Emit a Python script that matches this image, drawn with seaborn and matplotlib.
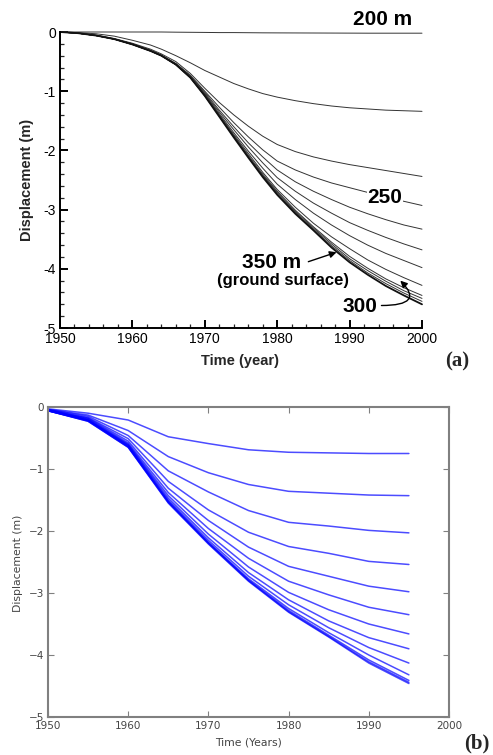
import numpy as np
import pandas as pd
import matplotlib
matplotlib.use("Agg")
import matplotlib.pyplot as plt
from matplotlib.ticker import MultipleLocator
import seaborn as sns

sns.set_style("ticks")
plt.rcParams["font.family"] = ["Liberation Sans", "DejaVu Sans"]

# ---------------- data: panel (a) ----------------
YEARS_A = [1950, 1952.5, 1955, 1957.5, 1960, 1962.5, 1964, 1966, 1968, 1970, 1972,
           1974, 1976, 1978, 1980, 1982.5, 1985, 1987.5, 1990, 1992.5, 1995,
           1997.5, 2000]
A_200 = [0, 0, 0, 0, 0, 0, 0, -0.003, -0.005, -0.007, -0.01, -0.01, -0.012,
         -0.014, -0.015, -0.016, -0.017, -0.018, -0.019, -0.02, -0.02, -0.02, -0.02]
A_L1 = [0, -0.01, -0.03, -0.07, -0.14, -0.22, -0.29, -0.40, -0.52, -0.65, -0.76,
        -0.87, -0.96, -1.04, -1.10, -1.16, -1.21, -1.25, -1.28, -1.30, -1.32,
        -1.33, -1.34]
A_L2 = [0, -0.02, -0.05, -0.11, -0.19, -0.29, -0.37, -0.50, -0.70, -0.95, -1.19,
        -1.40, -1.59, -1.76, -1.90, -2.02, -2.11, -2.18, -2.24, -2.29, -2.34,
        -2.39, -2.44]
A_L3 = [0, -0.02, -0.06, -0.12, -0.20, -0.31, -0.39, -0.53, -0.73, -1.00, -1.27,
        -1.53, -1.77, -1.99, -2.18, -2.33, -2.45, -2.55, -2.63, -2.71, -2.79,
        -2.86, -2.93]
A_L4 = [0, -0.02, -0.06, -0.12, -0.20, -0.31, -0.39, -0.54, -0.74, -1.02, -1.32,
        -1.60, -1.87, -2.11, -2.33, -2.53, -2.69, -2.83, -2.96, -3.07, -3.17,
        -3.26, -3.33]
A_L5 = [0, -0.02, -0.06, -0.12, -0.20, -0.31, -0.40, -0.54, -0.75, -1.04, -1.35,
        -1.65, -1.94, -2.21, -2.46, -2.69, -2.89, -3.06, -3.22, -3.35, -3.47,
        -3.58, -3.68]
A_L6 = [0, -0.02, -0.06, -0.12, -0.21, -0.32, -0.40, -0.55, -0.76, -1.05, -1.38,
        -1.70, -2.01, -2.30, -2.57, -2.83, -3.06, -3.26, -3.44, -3.60, -3.74,
        -3.86, -3.98]
A_L7 = [0, -0.02, -0.06, -0.12, -0.21, -0.32, -0.40, -0.55, -0.76, -1.06, -1.40,
        -1.73, -2.05, -2.37, -2.66, -2.96, -3.23, -3.46, -3.66, -3.85, -4.01,
        -4.15, -4.28]
A_L8 = [0, -0.02, -0.06, -0.12, -0.21, -0.32, -0.40, -0.55, -0.77, -1.07, -1.41,
        -1.75, -2.08, -2.40, -2.69, -3.01, -3.29, -3.55, -3.79, -3.99, -4.17,
        -4.32, -4.45]
A_L9 = [0, -0.02, -0.06, -0.12, -0.21, -0.32, -0.40, -0.55, -0.77, -1.07, -1.42,
        -1.76, -2.10, -2.42, -2.71, -3.03, -3.31, -3.58, -3.83, -4.03, -4.21,
        -4.37, -4.50]
A_L10 = [0, -0.02, -0.06, -0.12, -0.21, -0.32, -0.40, -0.55, -0.77, -1.08, -1.42,
         -1.77, -2.11, -2.43, -2.73, -3.05, -3.33, -3.61, -3.86, -4.07, -4.25,
         -4.41, -4.55]
A_GROUND = [0, -0.02, -0.06, -0.12, -0.21, -0.32, -0.40, -0.55, -0.77, -1.08, -1.43,
            -1.78, -2.12, -2.45, -2.75, -3.07, -3.35, -3.64, -3.89, -4.10, -4.29,
            -4.45, -4.60]
SERIES_A = [A_200, A_L1, A_L2, A_L3, A_L4, A_L5, A_L6, A_L7, A_L8, A_L9, A_L10, A_GROUND]

# ---------------- data: panel (b) ----------------
YEARS_B = [1950, 1955, 1960, 1965, 1970, 1975, 1980, 1985, 1990, 1995]
B1 = [-0.03, -0.10, -0.21, -0.48, -0.59, -0.69, -0.73, -0.74, -0.75, -0.75]
B2 = [-0.04, -0.13, -0.38, -0.80, -1.06, -1.25, -1.36, -1.39, -1.42, -1.43]
B3 = [-0.04, -0.15, -0.46, -1.03, -1.37, -1.67, -1.86, -1.92, -1.99, -2.03]
B4 = [-0.05, -0.17, -0.51, -1.20, -1.66, -2.02, -2.25, -2.36, -2.49, -2.54]
B5 = [-0.05, -0.18, -0.55, -1.31, -1.83, -2.26, -2.57, -2.73, -2.89, -2.98]
B6 = [-0.05, -0.19, -0.58, -1.38, -1.96, -2.44, -2.81, -3.03, -3.23, -3.35]
B7 = [-0.05, -0.20, -0.60, -1.43, -2.05, -2.58, -2.99, -3.27, -3.50, -3.66]
B8 = [-0.05, -0.21, -0.61, -1.47, -2.11, -2.67, -3.11, -3.45, -3.72, -3.90]
B9 = [-0.06, -0.21, -0.62, -1.50, -2.15, -2.73, -3.19, -3.56, -3.88, -4.13]
B10 = [-0.06, -0.22, -0.63, -1.52, -2.18, -2.77, -3.25, -3.64, -4.00, -4.32]
B11 = [-0.06, -0.22, -0.64, -1.53, -2.19, -2.79, -3.28, -3.68, -4.08, -4.41]
B12 = [-0.06, -0.23, -0.65, -1.54, -2.20, -2.80, -3.30, -3.70, -4.11, -4.44]
B13 = [-0.06, -0.23, -0.65, -1.55, -2.21, -2.81, -3.31, -3.71, -4.13, -4.46]
SERIES_B = [B1, B2, B3, B4, B5, B6, B7, B8, B9, B10, B11, B12, B13]

X_TICKS = [1950, 1960, 1970, 1980, 1990, 2000]
Y_TICKS = [0, -1, -2, -3, -4, -5]


def long_df(years, series):
    rows = []
    for i, s in enumerate(series):
        for yr, v in zip(years, s):
            rows.append({"year": yr, "disp": v, "series": i})
    return pd.DataFrame(rows)


dfa = long_df(YEARS_A, SERIES_A)
dfb = long_df(YEARS_B, SERIES_B)

W, H = 493, 755
fig = plt.figure(figsize=(W / 100, H / 100), dpi=100)

# ---------------- panel (a) ----------------
axa = fig.add_axes([60 / W, 1 - 328 / H, 362 / W, 296 / H])
n_a = len(SERIES_A)
for i in range(n_a):
    sub = dfa[dfa["series"] == i]
    lw = 1.3 if i == n_a - 1 else 0.7
    col = "#111111" if i == n_a - 1 else "#333333"
    sns.lineplot(data=sub, x="year", y="disp", ax=axa, color=col, lw=lw,
                 estimator=None, sort=False, legend=False, clip_on=False)

axa.set_xlim(1950, 2000)
axa.set_ylim(-5, 0)
axa.spines["top"].set_visible(False)
axa.spines["right"].set_visible(False)
for s in ("left", "bottom"):
    axa.spines[s].set_linewidth(1.4)
    axa.spines[s].set_color("black")
axa.set_xticks(X_TICKS)
axa.set_yticks(Y_TICKS)
axa.set_yticklabels([str(t) for t in Y_TICKS])
axa.xaxis.set_minor_locator(MultipleLocator(2))
axa.yaxis.set_minor_locator(MultipleLocator(0.2))
axa.tick_params(which="major", direction="in", length=6, width=1.4,
                labelsize=10, pad=3, colors="black")
axa.tick_params(which="minor", direction="in", length=3, width=0.9)
axa.set_xlabel("Time (year)", fontsize=10.5, fontweight="bold")
axa.set_ylabel("Displacement (m)", fontsize=10.5, fontweight="bold")
axa.xaxis.set_label_coords(0.497, -0.088)
axa.yaxis.set_label_coords(-0.072, 0.5)

bold = dict(fontweight="bold", color="black", ha="center", va="center")
axa.text(1994.6, 0.21, "200 m", fontsize=15, clip_on=False, **bold)
axa.text(1994.9, -2.80, "250", fontsize=15,
         bbox=dict(facecolor="white", edgecolor="none", pad=0.5), **bold)
axa.text(1979.2, -3.89, "350 m", fontsize=15, **bold)
axa.text(1980.8, -4.19, "(ground surface)", fontsize=12, **bold)
axa.text(1991.4, -4.64, "300", fontsize=15, **bold)
axa.annotate("", xy=(1988.2, -3.72), xytext=(1984.3, -3.88),
             arrowprops=dict(arrowstyle="-|>", color="black", lw=1.0,
                             mutation_scale=10, shrinkA=0, shrinkB=0))
axa.annotate("", xy=(1997.0, -4.20), xytext=(1994.4, -4.62),
             arrowprops=dict(arrowstyle="-|>", color="black", lw=1.0,
                             mutation_scale=10, shrinkA=0, shrinkB=0,
                             connectionstyle="angle3,angleA=0,angleB=-45"))

fig.text(457 / W, 1 - 361 / H, "(a)", fontsize=15, fontweight="bold",
         family="Liberation Serif", ha="center", va="center")

# ---------------- panel (b) ----------------
axb = fig.add_axes([48 / W, 1 - 717 / H, 401 / W, 310 / H])
for i in range(len(SERIES_B)):
    sub = dfb[dfb["series"] == i]
    sns.lineplot(data=sub, x="year", y="disp", ax=axb, color="blue", lw=1.1,
                 alpha=0.7, estimator=None, sort=False, legend=False)

axb.set_xlim(1950, 2000)
axb.set_ylim(-5, 0)
for s in axb.spines.values():
    s.set_visible(True)
    s.set_color("#808080")
    s.set_linewidth(1.5)
axb.set_xticks(X_TICKS)
axb.set_yticks(Y_TICKS)
axb.set_yticklabels(["0" if t == 0 else "\u2212" + str(-t) for t in Y_TICKS])
axb.tick_params(direction="in", length=4, width=0.8, color="#808080",
                labelcolor="#444444", labelsize=7.5, top=True, right=True, pad=3)
for lab in axb.get_xticklabels() + axb.get_yticklabels():
    lab.set_family("DejaVu Sans")
axb.set_xlabel("Time (Years)", fontsize=7.8, color="#444444", family="DejaVu Sans")
axb.set_ylabel("Displacement (m)", fontsize=7.8, color="#444444", family="DejaVu Sans")
axb.xaxis.set_label_coords(0.5, -0.065)
axb.yaxis.set_label_coords(-0.062, 0.497)

fig.text(477 / W, 1 - 743 / H, "(b)", fontsize=15, fontweight="bold",
         family="Liberation Serif", ha="center", va="center")

fig.savefig("out.png", dpi=100)
